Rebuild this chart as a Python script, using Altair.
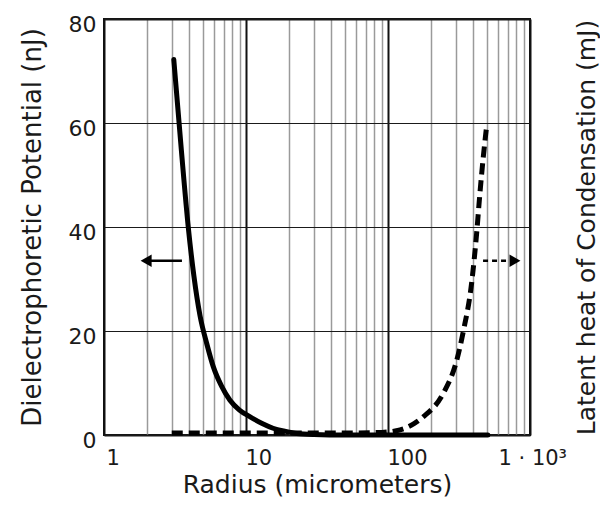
import altair as alt
import pandas as pd

# Dielectrophoretic potential (left axis, nJ)
dep_r = [3.1, 3.5, 3.92, 4.3, 4.74, 5.3, 5.89, 6.7, 7.71, 9.0, 10.7, 13.0, 15.5, 19.0, 22.8, 30, 50, 100, 200, 505]
dep_v = [72.2, 55.0, 40.0, 30.5, 23.0, 17.5, 13.1, 9.5, 6.7, 4.8, 3.5, 2.2, 1.3, 0.7, 0.3, 0.1, 0.0, 0.0, 0.0, 0.0]

# Latent heat of condensation (right axis, mJ)
lat_r = [3.0, 10, 30, 60, 90, 121.6, 177, 245, 305, 339, 388, 421, 444, 469, 495]
lat_v = [0.4, 0.4, 0.4, 0.4, 0.5, 1.0, 3.5, 8.0, 14.4, 19.9, 29.2, 38.8, 46.5, 53.5, 59.4]

# Arrow annotations
arrow_left_x = [1.98, 3.54]
arrow_left_y = 33.5
arrow_right_x = [467, 723]
arrow_right_head = 784
arrow_right_y = 33.5

x_ticks = [1, 2, 3, 4, 5, 6, 7, 8, 9, 10, 20, 30, 40, 50, 60, 70, 80, 90,
           100, 200, 300, 400, 500, 600, 700, 800, 900, 1000]
y_ticks = [0, 20, 40, 60, 80]

FONT = "DejaVu Sans"
TXT = "#1a1a1a"

dep = pd.DataFrame({"r": dep_r, "v": dep_v})
lat = pd.DataFrame({"r": lat_r, "v": lat_v})
al = pd.DataFrame({"r": arrow_left_x, "v": [arrow_left_y] * 2})
ar = pd.DataFrame({"r": arrow_right_x, "v": [arrow_right_y] * 2})
heads = pd.DataFrame({"r": [arrow_left_x[0], arrow_right_head],
                      "v": [arrow_left_y, arrow_right_y],
                      "shape": ["triangle-left", "triangle-right"]})

xscale = alt.Scale(type="log", domain=[1, 1000], nice=False)
yscale = alt.Scale(domain=[0, 80], nice=False, zero=True)

MAJ = "datum.value == 1 || datum.value == 10 || datum.value == 100 || datum.value == 1000"

x_axis = alt.Axis(
    values=x_ticks,
    labelExpr="datum.value == 1 ? '1' : datum.value == 10 ? '10' : datum.value == 100 ? '100' : datum.value == 1000 ? '1 · 10³' : ''",
    grid=True,
    gridColor={"condition": {"test": MAJ, "value": "#111111"}, "value": "#9a9a9a"},
    gridWidth={"condition": {"test": MAJ, "value": 2}, "value": 1.5},
    ticks=False, domain=False, labelOverlap=False, labelFlush=False,
    labelAlign="left",
    labelOffset={"condition": [{"test": "datum.value == 1000", "value": -32},
                               {"test": "datum.value == 1", "value": 2}], "value": -1},
    labelFont=FONT, labelFontSize=21, labelColor=TXT, labelPadding=12,
    title="Radius (micrometers)", titleFont=FONT, titleFontSize=25, titleFontWeight="normal",
    titleColor=TXT, titlePadding=4,
)

y_axis_left = alt.Axis(
    values=y_ticks, grid=True,
    gridColor="#1a1a1a",
    gridWidth={"condition": {"test": "datum.value == 0 || datum.value == 80", "value": 2}, "value": 1},
    ticks=False, domain=False,
    labelFont=FONT, labelFontSize=22, labelColor=TXT, labelPadding=8, labelOffset=5,
    title="Dielectrophoretic Potential (nJ)", titleFont=FONT, titleFontSize=26,
    titleFontWeight="normal", titleColor=TXT, titlePadding=23,
)

y_axis_right = alt.Axis(
    orient="right", values=y_ticks, grid=False, ticks=False, domain=False, labels=False,
    title="Latent heat of Condensation (mJ)", titleFont=FONT, titleFontSize=25,
    titleFontWeight="normal", titleColor=TXT, titleAngle=270, titlePadding=69,
)

X = alt.X("r:Q", scale=xscale, axis=x_axis)

solid = alt.Chart(dep).mark_line(color="black", strokeWidth=5, interpolate="monotone", strokeCap="round").encode(
    x=X,
    y=alt.Y("v:Q", scale=yscale, axis=y_axis_left),
)

dashed = alt.Chart(lat).mark_line(color="black", strokeWidth=5, interpolate="monotone",
                                  strokeDash=[11, 6]).encode(
    x=X,
    y=alt.Y("v:Q", scale=yscale, axis=y_axis_right),
)

arrow_l = alt.Chart(al).mark_line(color="black", strokeWidth=2.5).encode(
    x=X,
    y=alt.Y("v:Q", scale=yscale, axis=None),
)
arrow_r = alt.Chart(ar).mark_line(color="black", strokeWidth=2.5, strokeDash=[5, 4]).encode(
    x=X,
    y=alt.Y("v:Q", scale=yscale, axis=None),
)
arrow_heads = alt.Chart(heads).mark_point(filled=True, color="black", opacity=1, size=160).encode(
    x=X,
    y=alt.Y("v:Q", scale=yscale, axis=None),
    shape=alt.Shape("shape:N", scale=None, legend=None),
)

chart = alt.layer(solid, dashed, arrow_l, arrow_r, arrow_heads).resolve_axis(
    y="independent"
).properties(
    width=426, height=416,
    background="white",
    autosize=alt.AutoSizeParams(type="none"),
    padding={"left": 96, "top": 11, "right": 70, "bottom": 65},
).configure_view(stroke="#111111", strokeWidth=2)

chart.save("out.html", embed_options={"renderer": "svg", "actions": False})
